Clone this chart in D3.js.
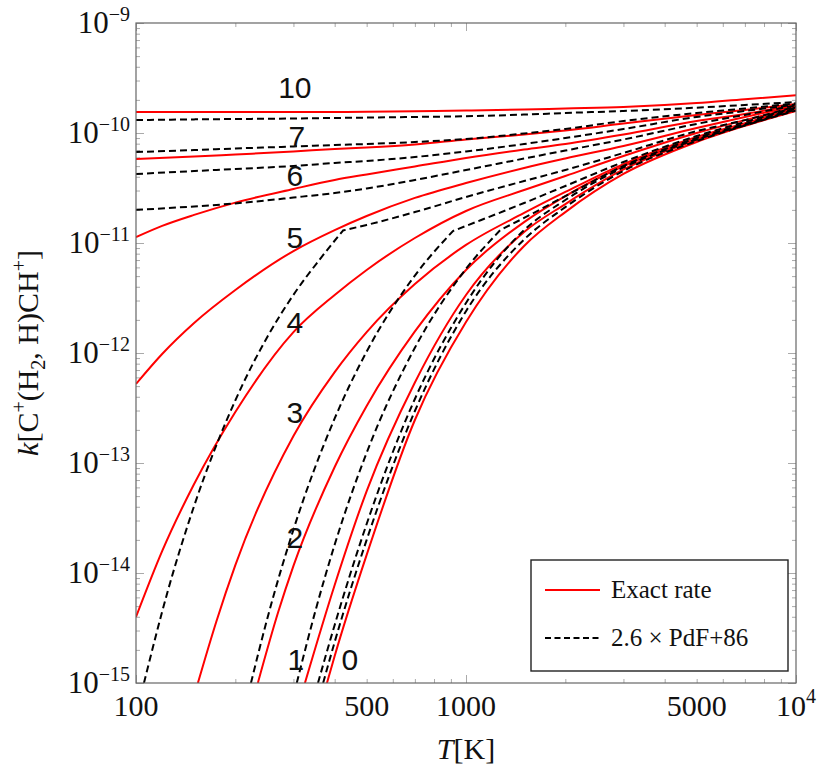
<!DOCTYPE html>
<html lang="en">
<head>
<meta charset="UTF-8" />
<title>k[C+(H2,H)CH+] vs T</title>
<script src="https://d3js.org/d3.v7.min.js"></script>
<style>
  body { margin: 0; background: #fff; }
  svg { display: block; }
  .serif { font-family: "Liberation Serif", "DejaVu Serif", serif; fill: #111; }
  .level { font-family: "Liberation Sans", Arial, sans-serif; font-size: 30px; fill: #111; }
</style>
</head>
<body>
<svg id="chart" width="830" height="776"></svg>
<script>
// ---- data: [T (K), k (cm^3 s^-1)] ----
const exact0 = [[379,1e-15],[400,1.76e-15],[500,1.46e-14],[700,2.46e-13],[1000,1.91e-12],[1500,9.4e-12],[2000,1.91e-11],[3000,4.24e-11],[5000,8.28e-11],[7000,1.16e-10],[10000,1.585e-10]];
const exact1 = [[325,1e-15],[400,7.78e-15],[500,5.56e-14],[700,5.4e-13],[1000,3.37e-12],[1500,1.26e-11],[2000,2.26e-11],[3000,4.66e-11],[5000,8.63e-11],[7000,1.18e-10],[10000,1.62e-10]];
const exact2 = [[234,1e-15],[270,4.46e-15],[300,1.16e-14],[400,9.2e-14],[500,3.3e-13],[700,1.57e-12],[1000,5.69e-12],[1500,1.55e-11],[2000,2.67e-11],[3000,5.01e-11],[5000,8.82e-11],[7000,1.19e-10],[10000,1.65e-10]];
const exact3 = [[154,1e-15],[175,3.59e-15],[200,1.18e-14],[300,1.76e-13],[400,6.71e-13],[500,1.55e-12],[700,4.24e-12],[1000,9.6e-12],[1500,1.875e-11],[2000,2.91e-11],[3000,5.22e-11],[5000,9.2e-11],[7000,1.23e-10],[10000,1.69e-10]];
const exact4 = [[100,3.98e-15],[120,1.58e-14],[150,6.44e-14],[200,2.91e-13],[300,1.55e-12],[400,3.37e-12],[500,5.69e-12],[700,1.11e-11],[1000,1.955e-11],[1500,3.03e-11],[2000,4.07e-11],[3000,6.18e-11],[5000,1.0e-10],[7000,1.31e-10],[10000,1.72e-10]];
const exact5 = [[100,5.23e-13],[120,9.8e-13],[150,1.875e-12],[200,3.74e-12],[300,8.45e-12],[400,1.31e-11],[500,1.76e-11],[700,2.57e-11],[1000,3.51e-11],[1500,4.81e-11],[2000,5.86e-11],[3000,7.62e-11],[5000,1.11e-10],[7000,1.40e-10],[10000,1.76e-10]];
const exact6 = [[100,1.13e-11],[120,1.43e-11],[150,1.80e-11],[200,2.33e-11],[300,3.10e-11],[400,3.74e-11],[500,4.2e-11],[700,4.96e-11],[1000,5.93e-11],[1500,7.08e-11],[2000,7.94e-11],[3000,9.69e-11],[5000,1.285e-10],[7000,1.49e-10],[10000,1.80e-10]];
const exact7 = [[100,5.81e-11],[150,6.11e-11],[200,6.38e-11],[300,6.79e-11],[400,7.15e-11],[500,7.38e-11],[700,7.86e-11],[1000,8.73e-11],[1500,9.69e-11],[2000,1.054e-10],[3000,1.22e-10],[5000,1.458e-10],[7000,1.62e-10],[10000,1.835e-10]];
const exact10 = [[100,1.55e-10],[200,1.55e-10],[300,1.55e-10],[500,1.56e-10],[700,1.575e-10],[1000,1.60e-10],[1500,1.635e-10],[2000,1.67e-10],[3000,1.72e-10],[5000,1.87e-10],[7000,2.03e-10],[10000,2.2e-10]];

const pdf0 = [[369,1e-15],[400,2.36e-15],[500,2.0e-14],[700,2.97e-13],[1000,2.4e-12],[1500,1.076e-11],[2000,2.12e-11],[3000,4.52e-11],[5000,8.45e-11],[7000,1.17e-10],[10000,1.60e-10]];
const pdf1 = [[356,1e-15],[400,3.37e-15],[500,2.79e-14],[700,3.82e-13],[1000,2.85e-12],[1500,1.31e-11],[2000,2.46e-11],[3000,4.86e-11],[5000,8.73e-11],[7000,1.18e-10],[10000,1.64e-10]];
const pdf2 = [[307,1e-15],[350,4.57e-15],[400,1.81e-14],[500,1.24e-13],[700,1.115e-12],[1000,5.82e-12],[1270,1.31e-11],[1500,1.69e-11],[2000,2.67e-11],[3000,5.01e-11],[5000,9.0e-11],[7000,1.21e-10],[10000,1.67e-10]];
const pdf3 = [[223,1e-15],[250,3.86e-15],[300,2.48e-14],[400,2.54e-13],[500,1.03e-12],[700,5.06e-12],[913,1.285e-11],[1000,1.43e-11],[1500,2.31e-11],[2000,3.30e-11],[3000,5.45e-11],[5000,9.39e-11],[7000,1.26e-10],[10000,1.71e-10]];
const pdf4 = [[105.7,1e-15],[125,6.95e-15],[150,4.07e-14],[200,3.71e-13],[250,1.40e-12],[300,3.38e-12],[360,7.06e-12],[424,1.30e-11],[500,1.46e-11],[700,1.91e-11],[1000,2.62e-11],[1500,3.66e-11],[2000,4.61e-11],[3000,6.58e-11],[5000,1.04e-10],[7000,1.31e-10],[10000,1.74e-10]];
const pdf5 = [[100,2.0e-11],[150,2.15e-11],[200,2.29e-11],[300,2.59e-11],[400,2.85e-11],[500,3.13e-11],[700,3.74e-11],[1000,4.61e-11],[1500,5.86e-11],[2000,6.93e-11],[3000,8.73e-11],[5000,1.21e-10],[7000,1.46e-10],[10000,1.78e-10]];
const pdf6 = [[100,4.24e-11],[150,4.51e-11],[200,4.71e-11],[300,5.01e-11],[400,5.34e-11],[500,5.57e-11],[700,6.05e-11],[1000,6.79e-11],[1500,7.94e-11],[2000,9.0e-11],[3000,1.087e-10],[5000,1.40e-10],[7000,1.585e-10],[10000,1.815e-10]];
const pdf7 = [[100,6.72e-11],[150,7.0e-11],[200,7.23e-11],[300,7.54e-11],[400,7.78e-11],[500,7.94e-11],[700,8.28e-11],[1000,8.82e-11],[1500,9.9e-11],[2000,1.09e-10],[3000,1.285e-10],[5000,1.52e-10],[7000,1.67e-10],[10000,1.86e-10]];
const pdf10 = [[100,1.31e-10],[150,1.33e-10],[200,1.34e-10],[300,1.355e-10],[400,1.37e-10],[500,1.38e-10],[700,1.40e-10],[1000,1.42e-10],[1500,1.47e-10],[2000,1.52e-10],[3000,1.585e-10],[5000,1.70e-10],[7000,1.80e-10],[10000,1.91e-10]];

// temperature where the PdF+86 form switches branch (kink in the dashed curve)
const pdfKinkT = [null, null, 1270, 913, 424, null, null, null, null];

const levels = ["0", "1", "2", "3", "4", "5", "6", "7", "10"];
// where each level number is written, [T, k]
const levelLabelPos = [[445,1.62e-15],[305,1.62e-15],[303,2.12e-14],[303,2.85e-13],[303,1.91e-12],[303,1.13e-11],[303,4.15e-11],[307,9.2e-11],[303,2.57e-10]];

const exactSeries = [exact0, exact1, exact2, exact3, exact4, exact5, exact6, exact7, exact10];
const pdfSeries = [pdf0, pdf1, pdf2, pdf3, pdf4, pdf5, pdf6, pdf7, pdf10];

const xLabelTicks = [100, 500, 1000, 5000, 10000];
const yMajorTicks = [1e-15, 1e-14, 1e-13, 1e-12, 1e-11, 1e-10, 1e-9];
const legendItems = ["Exact rate", "2.6 \u00d7 PdF+86"];

// ---- layout ----
const W = 830, H = 776;
const margin = { top: 23, right: 34, bottom: 93, left: 136 };
const serifFont = "'Liberation Serif', 'DejaVu Serif', serif";
const x = d3.scaleLog().domain([100, 1e4]).range([margin.left, W - margin.right]);
const y = d3.scaleLog().domain([1e-15, 1e-9]).range([H - margin.bottom, margin.top]);
const x0 = margin.left, x1 = W - margin.right, y0 = H - margin.bottom, y1 = margin.top;

const svg = d3.select("#chart");
svg.append("defs").append("clipPath").attr("id", "plotclip")
  .append("rect").attr("x", x0).attr("y", y1).attr("width", x1 - x0).attr("height", y0 - y1);

// minor/major tick lists for the log axes
const xMinor = [], yMinor = [];
[100, 1000].forEach(d => { for (let m = 2; m <= 9; m++) xMinor.push(d * m); });
yMajorTicks.slice(0, -1).forEach(d => { for (let m = 2; m <= 9; m++) yMinor.push(d * m); });
const xMajor = [100, 1000, 10000];

function ticks(axisFn, scale, values, size, transform) {
  const g = svg.append("g").attr("transform", transform)
    .call(axisFn(scale).tickValues(values).tickSize(size).tickFormat(""));
  g.select(".domain").remove();
  g.selectAll(".tick line").attr("stroke", "#aaa").attr("stroke-width", 1);
}
ticks(d3.axisBottom, x, xMinor, -4, `translate(0,${y0})`);
ticks(d3.axisBottom, x, xMajor, -8, `translate(0,${y0})`);
ticks(d3.axisTop, x, xMinor, -4, `translate(0,${y1})`);
ticks(d3.axisTop, x, xMajor, -8, `translate(0,${y1})`);
ticks(d3.axisLeft, y, yMinor, -4, `translate(${x0},0)`);
ticks(d3.axisLeft, y, yMajorTicks, -8, `translate(${x0},0)`);
ticks(d3.axisRight, y, yMinor, -4, `translate(${x1},0)`);
ticks(d3.axisRight, y, yMajorTicks, -8, `translate(${x1},0)`);

// ---- curves ----
const line = d3.line().x(d => x(d[0])).y(d => y(d[1])).curve(d3.curveMonotoneX);
const curves = svg.append("g").attr("clip-path", "url(#plotclip)");

exactSeries.forEach(s => {
  curves.append("path").attr("d", line(s))
    .attr("fill", "none").attr("stroke", "#ff0000").attr("stroke-width", 2);
});

pdfSeries.forEach((s, i) => {
  const kt = pdfKinkT[i];
  let d;
  if (kt) {
    const a = s.filter(p => p[0] <= kt), b = s.filter(p => p[0] >= kt);
    d = line(a) + line(b).replace(/^M/, "L");
  } else {
    d = line(s);
  }
  curves.append("path").attr("d", d)
    .attr("fill", "none").attr("stroke", "#000").attr("stroke-width", 2)
    .attr("stroke-dasharray", "7,4");
});

// frame
svg.append("rect").attr("x", x0).attr("y", y1).attr("width", x1 - x0).attr("height", y0 - y1)
  .attr("fill", "none").attr("stroke", "#666").attr("stroke-width", 1.2);

// level labels
svg.append("g").selectAll("text").data(levels).join("text")
  .attr("class", "level")
  .attr("x", (d, i) => x(levelLabelPos[i][0]))
  .attr("y", (d, i) => y(levelLabelPos[i][1]))
  .attr("text-anchor", "middle").attr("dominant-baseline", "central")
  .text(d => d);

// ---- tick labels ----
const yl = svg.append("g").attr("class", "serif").attr("font-family", serifFont);
yMajorTicks.forEach(v => {
  const e = Math.round(Math.log10(v));
  const t = yl.append("text").attr("x", x0 - 6).attr("y", y(v) + 10)
    .attr("text-anchor", "end").attr("font-size", 31).attr("font-family", serifFont);
  t.append("tspan").text("10");
  t.append("tspan").attr("font-size", 20).attr("dy", -12).text("\u2212" + Math.abs(e));
});

const xl = svg.append("g").attr("class", "serif").attr("font-family", serifFont);
xLabelTicks.forEach(v => {
  const t = xl.append("text").attr("x", x(v)).attr("y", y0 + 33)
    .attr("text-anchor", "middle").attr("font-size", 30).attr("font-family", serifFont);
  if (v === 10000) {
    t.append("tspan").text("10");
    t.append("tspan").attr("font-size", 20).attr("dy", -13).text("4");
  } else {
    t.text(v);
  }
});

// axis titles
const xt = svg.append("text").attr("class", "serif").attr("font-family", serifFont).attr("font-size", 30)
  .attr("x", (x0 + x1) / 2).attr("y", 759).attr("text-anchor", "middle");
xt.append("tspan").attr("font-style", "italic").text("T");
xt.append("tspan").text("[K]");

const yt = svg.append("text").attr("class", "serif").attr("font-family", serifFont).attr("font-size", 30)
  .attr("transform", `translate(38,${(y0 + y1) / 2}) rotate(-90)`).attr("text-anchor", "middle");
yt.append("tspan").attr("font-style", "italic").text("k");
yt.append("tspan").text("[C");
yt.append("tspan").attr("font-size", 20).attr("dy", -12).text("+");
yt.append("tspan").attr("dy", 12).text("(H");
yt.append("tspan").attr("font-size", 20).attr("dy", 7).text("2");
yt.append("tspan").attr("dy", -7).text(", H)CH");
yt.append("tspan").attr("font-size", 20).attr("dy", -12).text("+");
yt.append("tspan").attr("dy", 12).text("]");

// ---- legend ----
const lg = svg.append("g");
lg.append("rect").attr("x", 531).attr("y", 560).attr("width", 257).attr("height", 111)
  .attr("fill", "#fff").attr("stroke", "#222").attr("stroke-width", 1.4);
legendItems.forEach((name, i) => {
  const cy = 590 + i * 48;
  lg.append("line").attr("x1", 545).attr("x2", 600).attr("y1", cy).attr("y2", cy)
    .attr("stroke", i === 0 ? "#ff0000" : "#000").attr("stroke-width", 2)
    .attr("stroke-dasharray", i === 0 ? null : "6,3.5");
  lg.append("text").attr("class", "serif").attr("font-family", serifFont).attr("font-size", 25)
    .attr("x", 611).attr("y", cy + 8).text(name);
});
</script>
</body>
</html>
